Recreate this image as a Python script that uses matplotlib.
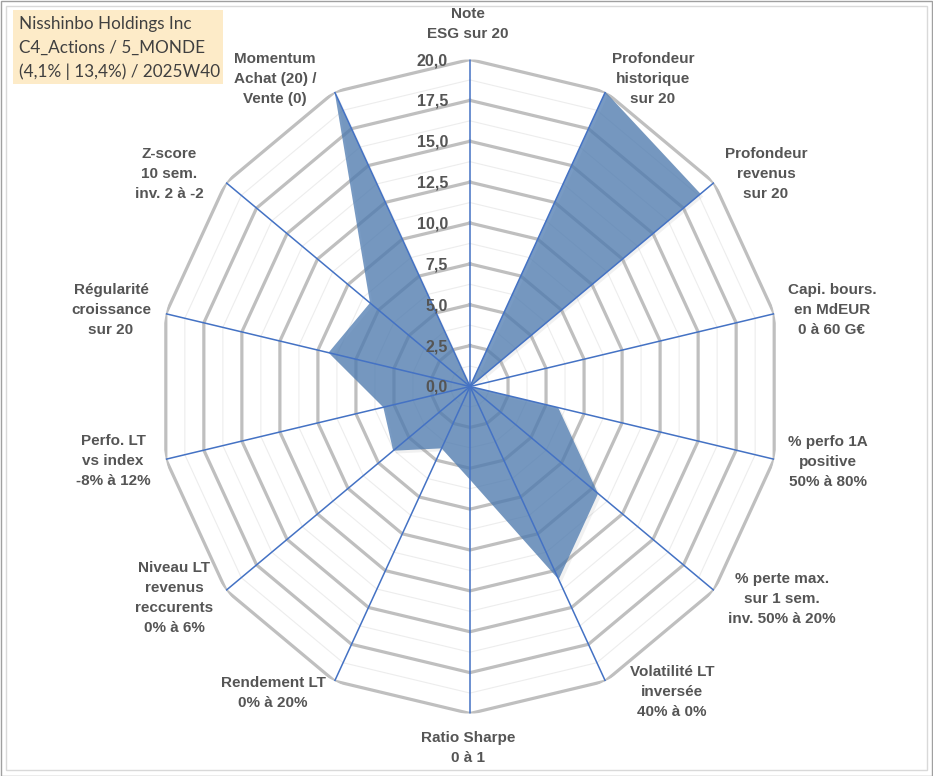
import matplotlib
matplotlib.use("Agg")
import matplotlib.pyplot as plt
import matplotlib.transforms as mtransforms
import matplotlib.patheffects as pe
from matplotlib.patches import Rectangle
import numpy as np

W, H = 933, 776

# axes of the radar, clockwise from the top
axis_labels = [
    "Note\nESG sur 20",
    "Profondeur\nhistorique\nsur 20",
    "Profondeur\nrevenus\nsur 20",
    "Capi. bours.\nen MdEUR\n0 à 60 G€",
    "% perfo 1A\npositive\n50% à 80%",
    "% perte max.\nsur 1 sem.\ninv. 50% à 20%",
    "Volatilité LT\ninversée\n40% à 0%",
    "Ratio Sharpe\n0 à 1",
    "Rendement LT\n0% à 20%",
    "Niveau LT\nrevenus\nreccurents\n0% à 6%",
    "Perfo. LT\nvs index\n-8% à 12%",
    "Régularité\ncroissance\nsur 20",
    "Z-score\n10 sem.\ninv. 2 à -2",
    "Momentum\nAchat (20) /\nVente (0)",
]
scores = [0, 20, 18.9, 0, 5.8, 10.5, 13.1, 5.7, 4.2, 6.3, 5.7, 9.3, 8.2, 20]
tick_values = [0, 2.5, 5, 7.5, 10, 12.5, 15, 17.5, 20]
tick_labels = ["0,0", "2,5", "5,0", "7,5", "10,0", "12,5", "15,0", "17,5", "20,0"]
title_lines = ["Nisshinbo Holdings Inc", "C4_Actions / 5_MONDE",
               "(4,1% | 13,4%) / 2025W40"]

# label block centres in pixels (layout only)
label_pos = [(468, 24), (653, 79), (766, 174), (832, 310), (828, 462),
             (782, 599), (672, 692), (468, 748), (273, 693), (174, 598),
             (113, 461), (111, 310), (169, 174), (275, 79)]

GREY_TXT = "#555555"
LABEL_FONT = dict(family=["Liberation Sans", "DejaVu Sans"], fontweight="bold",
                  color=GREY_TXT)

fig = plt.figure(figsize=(W / 100, H / 100), dpi=100)

# frame of the chart
fig.patches.append(Rectangle((0.5 / W, 0.5 / H), 1 - 1.5 / W, 1 - 1.5 / H,
                             transform=fig.transFigure, fill=False,
                             edgecolor="#A0A0A0", lw=1.0))
fig.patches.append(Rectangle((6 / W, 6 / H), 1 - 12 / W, 1 - 12 / H,
                             transform=fig.transFigure, fill=False,
                             edgecolor="#D9D9D9", lw=1.0))

cx, cy, rx, ry = 470, 386.5, 312, 327
ax = fig.add_axes([(cx - rx) / W, 1 - (cy + ry) / H, 2 * rx / W, 2 * ry / H],
                  projection="polar")
ax.set_theta_zero_location("N")
ax.set_theta_direction(-1)
ax.set_aspect("auto")
ax.grid(False)
ax.set_xticks([])
ax.set_yticks([])
ax.spines["polar"].set_visible(False)
ax.patch.set_visible(False)

n = len(axis_labels)
theta = np.arange(n) * 2 * np.pi / n
closed = np.append(theta, theta[0])

# polygon grid rings: major every 2.5, minor in between
for lvl in np.arange(1.25, 20.01, 1.25):
    major = abs(lvl / 2.5 - round(lvl / 2.5)) < 1e-9
    ax.plot(closed, [lvl] * (n + 1),
            color="#BFBFBF" if major else "#EDEDED",
            lw=2.3 if major else 0.8, zorder=1, solid_joinstyle="miter")

vals = np.append(scores, scores[0])
ax.fill(closed, vals, color="#4E7BB0", alpha=0.76, lw=0, zorder=2,
        path_effects=[pe.SimplePatchShadow(offset=(2, -2), shadow_rgbFace="#909090",
                                           alpha=0.12), pe.Normal()])

for t in theta:
    ax.plot([t, t], [0, 20], color="#4472C4", lw=1.1, zorder=3)

ax.set_ylim(0, 20)

off = mtransforms.offset_copy(ax.transData, fig=fig, x=-22, y=-1, units="dots")
for v, s in zip(tick_values, tick_labels):
    ax.text(0, v, s, transform=off, ha="right", va="center", fontsize=11.5,
            zorder=5, **LABEL_FONT)

for (px, py), s in zip(label_pos, axis_labels):
    fig.text(px / W, 1 - py / H, s, ha="center", va="center", ma="center",
             fontsize=11, linespacing=1.52, **LABEL_FONT)

# title box
fig.patches.append(Rectangle((13 / W, 1 - 84 / H), 210 / W, 74 / H,
                             transform=fig.transFigure, facecolor="#FDEBC8",
                             edgecolor="none"))
for i, s in enumerate(title_lines):
    fig.text(19 / W, 1 - (24 + 24 * i) / H, s, ha="left", va="center",
             fontsize=12.3, family="Lato", color="#404040")

fig.savefig("out.png", dpi=100)
